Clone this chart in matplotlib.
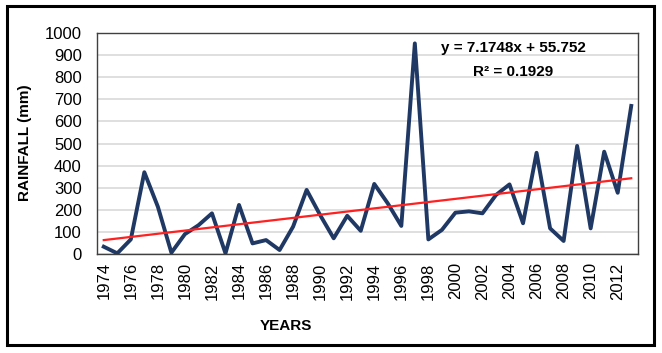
import matplotlib.pyplot as plt
import numpy as np
from matplotlib.patches import Rectangle

years = list(range(1974, 2014))
rainfall = [33, 3, 66, 370, 214, 6, 90, 130, 184, 3,
            222, 48, 63, 18, 124, 290, 176, 71, 173, 105,
            317, 229, 127, 953, 66, 109, 187, 193, 184, 267,
            315, 139, 458, 116, 59, 489, 116, 463, 277, 670]
slope = 7.1748
intercept = 55.752
r2 = 0.1929
tick_labels = [str(y) for y in years[::2]]

plt.rcParams['font.family'] = ['Liberation Sans', 'DejaVu Sans']

fig = plt.figure(figsize=(6.62, 3.53), dpi=100)
ax = fig.add_axes([97/662, 1 - 254/353, (638 - 97)/662, (254 - 33)/353])

x = np.arange(len(years))
ax.plot(x, rainfall, color='#1f3864', lw=2.8, zorder=3)
# trend line from the equation shown on the chart (x counts from 1)
trend = slope * (x + 1) + intercept
ax.plot(x, trend, color='#ff2020', lw=1.6, zorder=4)

ax.set_xlim(-0.5, len(years) - 0.5)
ax.set_ylim(0, 1000)
ax.set_yticks(range(0, 1001, 100))
ax.set_xticks(x[::2])
ax.set_xticklabels(tick_labels, rotation=90, fontsize=12)
ax.tick_params(axis='y', labelsize=12, length=0, pad=11)
ax.tick_params(axis='x', length=0, pad=6)
ax.grid(axis='y', color='#d9d9d9', lw=1.2)
ax.set_axisbelow(True)
for s in ax.spines.values():
    s.set_color('#404040')
    s.set_linewidth(1.0)

ax.text(0.77, 0.93, f'y = {slope}x + {intercept}', transform=ax.transAxes,
        ha='center', va='center', fontsize=11, fontweight='bold')
ax.text(0.77, 0.825, f'R² = {r2}', transform=ax.transAxes,
        ha='center', va='center', fontsize=11, fontweight='bold')

fig.text(25/662, 1 - 143/353, 'RAINFALL (mm)', rotation=90, ha='center', va='center',
         fontsize=11, fontweight='bold')
fig.text(286/662, 1 - 326/353, 'YEARS', ha='center', va='center',
         fontsize=11, fontweight='bold')

fig.patches.append(Rectangle((7/662, 1 - 345/353), (654 - 7)/662, (345 - 6)/353,
                             transform=fig.transFigure, fill=False, ec='black', lw=2.2))

fig.savefig('out.png', dpi=100)
